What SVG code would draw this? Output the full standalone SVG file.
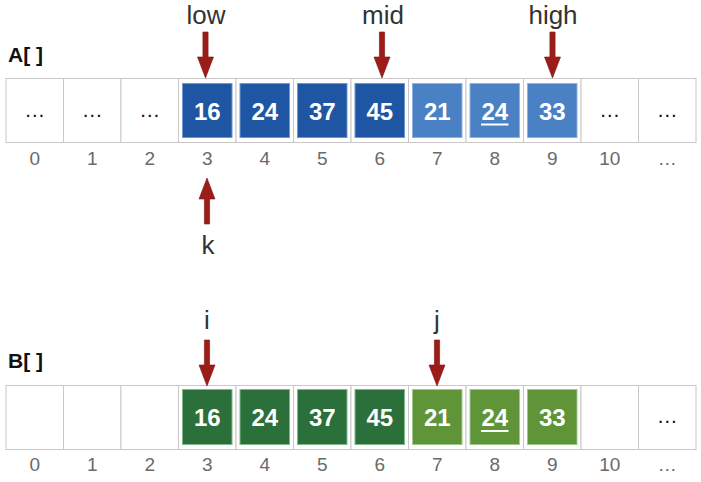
<svg xmlns="http://www.w3.org/2000/svg" width="701" height="482" viewBox="0 0 701 482">
<style>
.cell{fill:#fff;stroke:#c8c8c8;stroke-width:1}
.db{fill:#1f56a3;stroke:#6f97cf;stroke-width:1}
.lb{fill:#4a80c4;stroke:#8fb1de;stroke-width:1}
.dg{fill:#2b6f3a;stroke:#7fb88a;stroke-width:1}
.lg{fill:#5f9439;stroke:#a3c98a;stroke-width:1}
.num{font-family:"Liberation Sans",Arial,sans-serif;font-weight:bold;font-size:24px;fill:#fff;text-anchor:middle}
.dots{font-family:"Liberation Sans",Arial,sans-serif;font-size:21px;fill:#111;text-anchor:middle}
.idx{font-family:"Liberation Sans",Arial,sans-serif;font-size:19px;fill:#6a6a6a;text-anchor:middle}
.lbl{font-family:"Liberation Sans",Arial,sans-serif;font-size:26px;fill:#333;text-anchor:middle}
.title{font-family:"Liberation Sans",Arial,sans-serif;font-weight:bold;font-size:21px;fill:#111}
.arr{fill:#9c1d17;stroke:#7a1410;stroke-width:0.6}
</style>
<defs>
<polygon id="down" class="arr" points="-2.6,0 2.6,0 2.6,25 8,25 0,46 -8,25 -2.6,25"/>
</defs>

<g id="titleA"><text class="title" x="8" y="62">A[ ]</text></g>
<g id="titleB"><text class="title" x="8" y="368">B[ ]</text></g>

<g id="arrayA">
<rect class="cell" x="6" y="78.5" width="57.5" height="64"/>
<rect class="cell" x="63.5" y="78.5" width="57.5" height="64"/>
<rect class="cell" x="121" y="78.5" width="57.5" height="64"/>
<rect class="cell" x="178.5" y="78.5" width="57.5" height="64"/>
<rect class="cell" x="236" y="78.5" width="57.5" height="64"/>
<rect class="cell" x="293.5" y="78.5" width="57.5" height="64"/>
<rect class="cell" x="351" y="78.5" width="57.5" height="64"/>
<rect class="cell" x="408.5" y="78.5" width="57.5" height="64"/>
<rect class="cell" x="466" y="78.5" width="57.5" height="64"/>
<rect class="cell" x="523.5" y="78.5" width="57.5" height="64"/>
<rect class="cell" x="581" y="78.5" width="57.5" height="64"/>
<rect class="cell" x="638.5" y="78.5" width="57.5" height="64"/>
<text class="dots" x="34.75" y="117">…</text>
<text class="dots" x="92.25" y="117">…</text>
<text class="dots" x="149.75" y="117">…</text>
<rect class="db" x="182.5" y="83.5" width="49.5" height="54"/>
<rect class="db" x="240" y="83.5" width="49.5" height="54"/>
<rect class="db" x="297.5" y="83.5" width="49.5" height="54"/>
<rect class="db" x="355" y="83.5" width="49.5" height="54"/>
<rect class="lb" x="412.5" y="83.5" width="49.5" height="54"/>
<rect class="lb" x="470" y="83.5" width="49.5" height="54"/>
<rect class="lb" x="527.5" y="83.5" width="49.5" height="54"/>
<text class="num" x="207.25" y="120">16</text>
<text class="num" x="264.75" y="120">24</text>
<text class="num" x="322.25" y="120">37</text>
<text class="num" x="379.75" y="120">45</text>
<text class="num" x="437.25" y="120">21</text>
<text class="num" x="494.75" y="120">24</text>
<line x1="481" y1="124.5" x2="508.5" y2="124.5" stroke="#fff" stroke-width="2"/>
<text class="num" x="552.25" y="120">33</text>
<text class="dots" x="609.75" y="117">…</text>
<text class="dots" x="667.25" y="117">…</text>
</g>
<g id="indexA">
<text class="idx" x="34.75" y="165">0</text>
<text class="idx" x="92.25" y="165">1</text>
<text class="idx" x="149.75" y="165">2</text>
<text class="idx" x="207.25" y="165">3</text>
<text class="idx" x="264.75" y="165">4</text>
<text class="idx" x="322.25" y="165">5</text>
<text class="idx" x="379.75" y="165">6</text>
<text class="idx" x="437.25" y="165">7</text>
<text class="idx" x="494.75" y="165">8</text>
<text class="idx" x="552.25" y="165">9</text>
<text class="idx" x="609.75" y="165">10</text>
<text class="idx" x="667.25" y="165">…</text>
</g>

<g id="arrayB">
<rect class="cell" x="6" y="385.5" width="57.5" height="64"/>
<rect class="cell" x="63.5" y="385.5" width="57.5" height="64"/>
<rect class="cell" x="121" y="385.5" width="57.5" height="64"/>
<rect class="cell" x="178.5" y="385.5" width="57.5" height="64"/>
<rect class="cell" x="236" y="385.5" width="57.5" height="64"/>
<rect class="cell" x="293.5" y="385.5" width="57.5" height="64"/>
<rect class="cell" x="351" y="385.5" width="57.5" height="64"/>
<rect class="cell" x="408.5" y="385.5" width="57.5" height="64"/>
<rect class="cell" x="466" y="385.5" width="57.5" height="64"/>
<rect class="cell" x="523.5" y="385.5" width="57.5" height="64"/>
<rect class="cell" x="581" y="385.5" width="57.5" height="64"/>
<rect class="cell" x="638.5" y="385.5" width="57.5" height="64"/>
<rect class="dg" x="182.5" y="389.5" width="49.5" height="55"/>
<rect class="dg" x="240" y="389.5" width="49.5" height="55"/>
<rect class="dg" x="297.5" y="389.5" width="49.5" height="55"/>
<rect class="dg" x="355" y="389.5" width="49.5" height="55"/>
<rect class="lg" x="412.5" y="389.5" width="49.5" height="55"/>
<rect class="lg" x="470" y="389.5" width="49.5" height="55"/>
<rect class="lg" x="527.5" y="389.5" width="49.5" height="55"/>
<text class="num" x="207.25" y="426">16</text>
<text class="num" x="264.75" y="426">24</text>
<text class="num" x="322.25" y="426">37</text>
<text class="num" x="379.75" y="426">45</text>
<text class="num" x="437.25" y="426">21</text>
<text class="num" x="494.75" y="426">24</text>
<line x1="481" y1="431" x2="508.5" y2="431" stroke="#fff" stroke-width="2"/>
<text class="num" x="552.25" y="426">33</text>
<text class="dots" x="667.25" y="423">…</text>
</g>
<g id="indexB">
<text class="idx" x="34.75" y="471">0</text>
<text class="idx" x="92.25" y="471">1</text>
<text class="idx" x="149.75" y="471">2</text>
<text class="idx" x="207.25" y="471">3</text>
<text class="idx" x="264.75" y="471">4</text>
<text class="idx" x="322.25" y="471">5</text>
<text class="idx" x="379.75" y="471">6</text>
<text class="idx" x="437.25" y="471">7</text>
<text class="idx" x="494.75" y="471">8</text>
<text class="idx" x="552.25" y="471">9</text>
<text class="idx" x="609.75" y="471">10</text>
<text class="idx" x="667.25" y="471">…</text>
</g>

<g id="labels">
<text class="lbl" x="206" y="24">low</text>
<text class="lbl" x="383" y="24">mid</text>
<text class="lbl" x="553" y="24">high</text>
<text class="lbl" x="208" y="254">k</text>
<text class="lbl" x="207" y="329">i</text>
<text class="lbl" x="437" y="329">j</text>
</g>

<g id="connectors">
<use href="#down" x="205.5" y="32"/>
<use href="#down" x="382" y="32"/>
<use href="#down" x="552.5" y="32"/>
<use href="#down" transform="translate(207,224) scale(1,-1)"/>
<use href="#down" x="207" y="340"/>
<use href="#down" x="437" y="340"/>
</g>
</svg>
